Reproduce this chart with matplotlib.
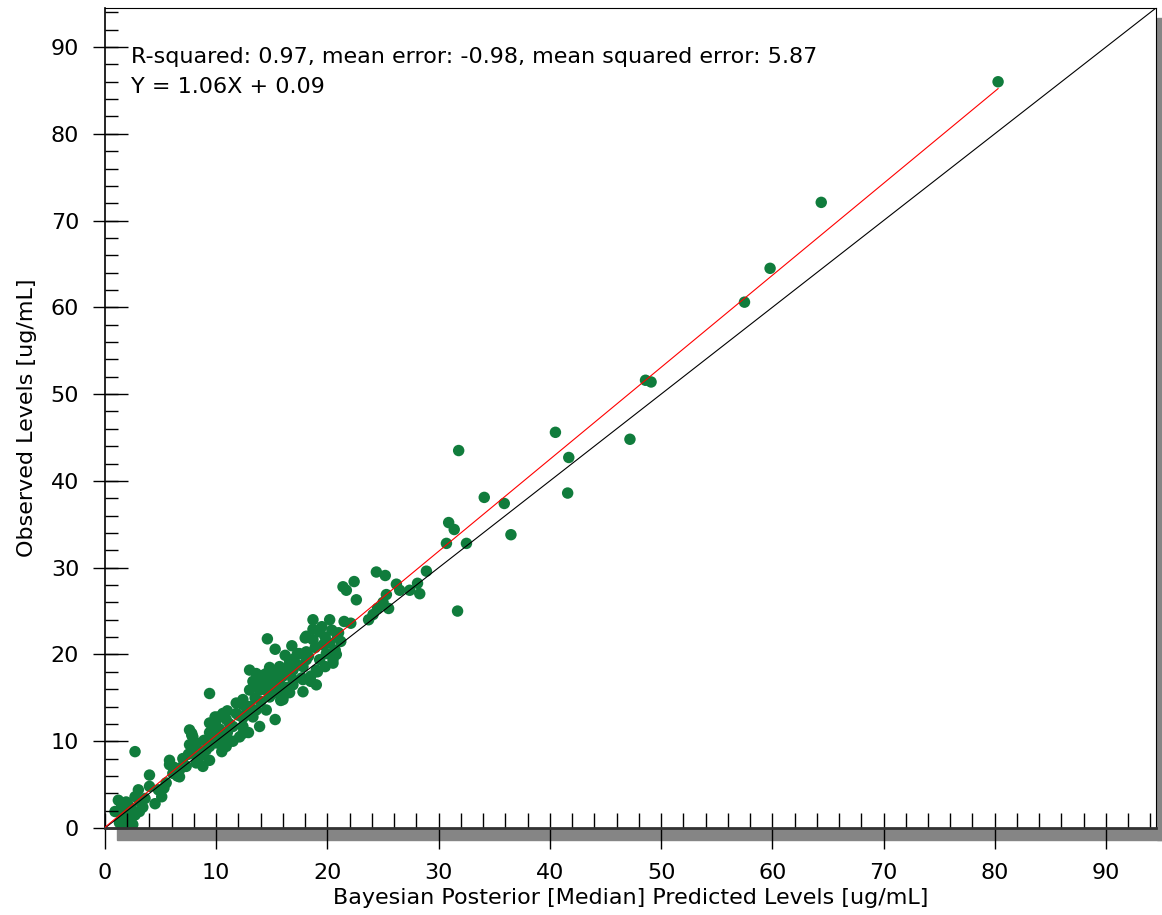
import matplotlib
matplotlib.use("Agg")
import matplotlib.pyplot as plt
from matplotlib.patches import Rectangle
from matplotlib.ticker import MultipleLocator

plt.rcParams['font.family'] = ['DejaVu Sans']

# Bayesian posterior (median) predicted vs observed levels, ug/mL
predicted = [
    0.9, 1.2, 1.3, 1.6, 1.8, 1.8, 1.9, 2.1, 2.2, 2.4, 2.7, 2.7, 2.7, 3.0, 3.1, 3.1,
    2.5, 3.4, 4.0, 4.0, 4.5, 4.8, 5.1, 1.5,
    5.5, 5.8, 5.8, 6.1, 6.7, 6.7, 7.3, 7.1, 6.2, 7.6, 7.8, 7.8, 8.2, 7.9, 8.5, 8.2,
    8.8, 8.8, 9.4, 7.5, 7.0, 8.0, 6.9, 7.6, 8.4,
    9.4, 9.4, 9.4, 9.4, 9.9, 10.0, 10.0, 10.2, 10.6, 10.6, 10.5, 10.9, 10.9, 10.9,
    10.3, 10.0, 9.7, 11.5, 11.8, 11.8, 11.5, 11.0, 12.1, 12.4, 12.4, 12.4, 12.4,
    12.4, 11.2, 9.8,
    13.0, 13.6, 13.3, 14.2, 14.8, 13.9, 13.0, 14.8, 15.9, 13.9, 13.3, 13.6, 15.3,
    16.0, 14.2, 13.7, 13.4, 14.1, 15.1, 14.5, 15.1, 15.7, 15.8, 14.6, 15.3, 14.5,
    15.1, 15.7, 15.7, 13.0, 14.0, 14.5, 12.8, 15.0,
    16.8, 18.0, 18.7, 16.6, 16.9, 17.8, 16.9, 17.8, 16.6, 16.0, 19.0, 16.0, 17.3,
    17.5, 18.1, 18.3, 19.6, 18.1, 19.3, 19.0, 19.9, 20.5, 20.7, 20.2, 17.7, 18.5,
    19.1, 19.8, 20.5, 20.8, 18.5, 17.8, 16.3, 18.7, 20.2, 19.3, 20.4, 18.1, 19.5,
    18.7, 16.9, 17.3, 16.3,
    14.3, 15.5, 16.5, 17.0, 12.0, 11.0, 13.5, 14.8, 16.2, 18.9, 19.8, 21.2, 10.4,
    8.9, 9.1, 6.5, 5.3, 3.6, 2.0, 12.9,
    21.4, 22.4, 21.7, 22.6, 22.1, 21.0, 23.7, 24.1, 24.5, 25.5, 24.4, 25.2, 26.2,
    28.1, 28.3, 25.3, 26.5, 27.4, 28.9, 25.0, 21.5, 20.9,
    30.7, 30.9, 31.4, 31.7, 31.8, 32.5, 34.1, 35.9, 36.5, 40.5, 41.6, 41.7, 47.2,
    48.6, 49.1, 57.5, 59.8, 64.4, 80.3,
]
observed = [
    1.9, 3.2, 0.6, 1.3, 0.5, 2.1, 3.0, 2.6, 0.9, 2.2, 1.5, 3.6, 8.8, 4.4, 3.1, 1.9,
    0.4, 2.4, 6.1, 4.8, 2.8, 4.4, 3.6, 2.5,
    5.2, 7.3, 7.8, 6.3, 5.9, 6.7, 7.1, 7.3, 7.0, 9.6, 10.9, 10.7, 9.8, 10.5, 8.2, 7.5,
    7.1, 8.6, 7.8, 8.5, 8.0, 8.6, 7.0, 11.3, 9.0,
    15.5, 12.1, 9.4, 11.0, 12.8, 12.5, 9.8, 12.8, 13.2, 10.5, 8.8, 12.5, 10.2, 9.4,
    11.4, 11.7, 11.7, 11.7, 14.4, 13.2, 10.0, 11.0, 10.5, 11.7, 14.2, 10.9, 14.8,
    12.7, 12.0, 10.5,
    18.2, 17.8, 16.9, 16.7, 17.5, 15.9, 15.9, 15.1, 14.9, 11.7, 12.8, 13.6, 12.5,
    14.8, 17.6, 17.2, 16.4, 16.5, 16.9, 15.9, 15.5, 15.9, 14.7, 21.8, 20.6, 17.8,
    16.7, 17.1, 18.6, 14.0, 14.6, 13.6, 13.5, 16.2,
    21.0, 21.9, 21.7, 19.2, 18.2, 18.6, 17.1, 17.1, 15.6, 15.1, 16.5, 17.5, 20.1,
    20.1, 20.3, 19.8, 21.1, 19.4, 19.4, 18.2, 20.1, 19.4, 20.5, 21.3, 17.3, 17.5,
    18.0, 18.6, 19.0, 20.0, 16.9, 15.7, 16.2, 24.0, 24.0, 22.6, 22.8, 22.1, 23.2,
    22.9, 16.5, 18.8, 18.4,
    16.0, 17.8, 17.8, 19.5, 13.0, 13.5, 15.0, 18.5, 19.9, 20.8, 22.0, 21.5, 10.0,
    10.1, 9.0, 6.0, 4.6, 3.4, 1.7, 11.0,
    27.8, 28.4, 27.4, 26.3, 23.6, 22.5, 24.0, 24.6, 25.3, 25.3, 29.5, 29.1, 28.1,
    28.2, 27.0, 26.9, 27.4, 27.4, 29.6, 26.0, 23.8, 22.0,
    32.8, 35.2, 34.4, 25.0, 43.5, 32.8, 38.1, 37.4, 33.8, 45.6, 38.6, 42.7, 44.8,
    51.6, 51.4, 60.6, 64.5, 72.1, 86.0,
]

slope, intercept = 1.06, 0.09
stats_text = "R-squared: 0.97, mean error: -0.98, mean squared error: 5.87"
fit_text = "Y = 1.06X + 0.09"
x_max = 94.5

W, H = 1162, 915
fig = plt.figure(figsize=(W / 100, H / 100), dpi=100)
ax = fig.add_axes([105 / W, 1 - 828 / H, (1156 - 105) / W, (828 - 8) / H])

# drop shadow below and right of the plot frame
shade = '#858585'
fig.add_artist(Rectangle((117 / W, 1 - 840 / H), 1 - 117 / W, 12 / H,
                         transform=fig.transFigure, color=shade, zorder=-1))
fig.add_artist(Rectangle((1157 / W, 1 - 840 / H), 1 - 1157 / W, (840 - 18) / H,
                         transform=fig.transFigure, color=shade, zorder=-1))

ax.plot([0, x_max], [0, x_max], color='black', lw=0.8, zorder=2)
xf = [0, max(predicted)]
ax.plot(xf, [slope * v + intercept for v in xf], color='red', lw=0.8, zorder=3)
ax.scatter(predicted, observed, s=68, color='#107c3c', edgecolors='none', zorder=1)

ax.set_xlim(0, x_max)
ax.set_ylim(0, x_max)
ax.xaxis.set_major_locator(MultipleLocator(10))
ax.yaxis.set_major_locator(MultipleLocator(10))
ax.xaxis.set_minor_locator(MultipleLocator(2))
ax.yaxis.set_minor_locator(MultipleLocator(2))
# keep the short inner ticks at the major positions too
ax.xaxis.remove_overlapping_locs = False
ax.yaxis.remove_overlapping_locs = False

ax.tick_params(axis='x', which='major', direction='out', length=15, width=1,
               labelsize=16, pad=10)
ax.tick_params(axis='y', which='major', direction='out', length=8.6, width=1,
               labelsize=16, pad=10)
ax.tick_params(axis='x', which='minor', direction='in', length=10.8, width=1)
ax.tick_params(axis='y', which='minor', direction='in', length=9.4, width=1)
ax.tick_params(top=False, right=False)

# longer inner part of the major y ticks
sec = ax.secondary_yaxis('left')
sec.yaxis.set_major_locator(MultipleLocator(10))
sec.tick_params(direction='in', length=16.6, width=1, labelleft=False)
sec.spines['left'].set_visible(False)

ax.spines['left'].set_linewidth(1.2)
ax.spines['bottom'].set_linewidth(2)
ax.spines['bottom'].set_color('#333333')
ax.spines['top'].set_linewidth(0.8)
ax.spines['right'].set_linewidth(0.8)

ax.set_xlabel('Bayesian Posterior [Median] Predicted Levels [ug/mL]', fontsize=16, labelpad=4)
ax.set_ylabel('Observed Levels [ug/mL]', fontsize=16, labelpad=10)

ax.text(2.3, 88.9, stats_text, fontsize=16, va='center', ha='left')
ax.text(2.3, 85.4, fit_text, fontsize=16, va='center', ha='left')

fig.savefig('out.png', dpi=100)
